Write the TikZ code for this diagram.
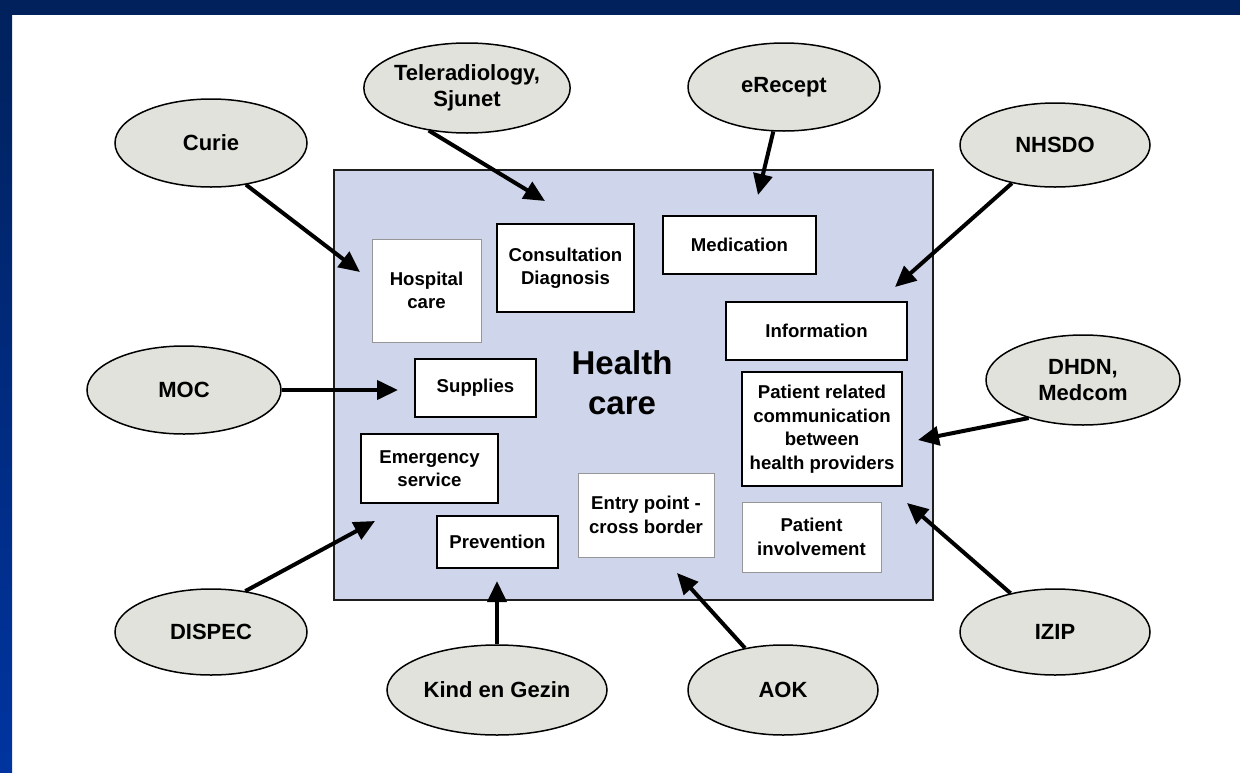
\documentclass[tikz,border=0pt]{standalone}
\usepackage{fontspec}
\setmainfont{Liberation Sans}
\usetikzlibrary{shapes.geometric,arrows.meta}
\definecolor{navy}{RGB}{0,33,92}
\definecolor{brightblue}{RGB}{0,52,160}
\definecolor{panel}{RGB}{207,213,234}
\definecolor{oval}{RGB}{226,226,220}
\definecolor{softedge}{RGB}{150,150,150}
\definecolor{paneledge}{RGB}{30,30,30}

\begin{document}
\begin{tikzpicture}[x=1pt,y=-1pt,
  bubble/.style={ellipse, draw=black, line width=1.5pt, fill=oval, inner sep=0pt,
    align=center, font=\fontsize{22}{26}\selectfont\bfseries},
  item/.style={rectangle, draw=black, line width=2pt, fill=white, inner sep=0pt,
    align=center, font=\fontsize{18.6}{23.5}\selectfont\bfseries},
  softitem/.style={item, draw=softedge, line width=1pt},
  feed/.style={line width=4pt, -{Triangle[length=21pt,width=19pt]}}
]
% page background and slide frame
\useasboundingbox (0,0) rectangle (1240,772);
\fill[white] (0,0) rectangle (1240,772);
\shade[top color=navy, bottom color=brightblue] (0,0) rectangle (12,772);
\fill[navy] (0,0) rectangle (1240,15);

% central health care panel
\node[rectangle, draw=paneledge, line width=1.5pt, fill=panel,
      minimum width=599pt, minimum height=430pt] (panel) at (633.5,385) {};
\node[align=center, font=\fontsize{33}{40}\selectfont\bfseries] (hc) at (622,383) {Health\\care};

% services inside the panel
\node[softitem, minimum width=109pt, minimum height=103pt] (hosp) at (426.5,290.5) {Hospital\\care};
\node[item, minimum width=137pt, minimum height=88pt] (cons) at (565.5,268) {Consultation\\Diagnosis};
\node[item, minimum width=153pt, minimum height=58pt] (med) at (739.5,245) {Medication};
\node[item, minimum width=181pt, minimum height=58pt] (info) at (816.5,331) {Information};
\node[item, minimum width=160pt, minimum height=114pt] (comm) at (822,429) {Patient related\\communication\\between\\health providers};
\node[softitem, minimum width=139pt, minimum height=70pt] (invol) at (811.5,537) {Patient\\involvement};
\node[softitem, minimum width=136pt, minimum height=84pt] (entry) at (646,515) {Entry point -\\cross border};
\node[item, minimum width=121pt, minimum height=58pt] (supp) at (475.5,388) {Supplies};
\node[item, minimum width=137pt, minimum height=69pt] (emerg) at (429.5,468.5) {Emergency\\service};
\node[item, minimum width=121pt, minimum height=52pt] (prev) at (497.5,542) {Prevention};

% projects around the panel
\node[bubble, minimum width=192pt, minimum height=88pt] (curie) at (211,143) {Curie};
\node[bubble, minimum width=194pt, minimum height=90pt] (tele) at (467,88) {Teleradiology,\\Sjunet};
\node[bubble, minimum width=192pt, minimum height=88pt] (erecept) at (784,87) {eRecept};
\node[bubble, minimum width=190pt, minimum height=84pt] (nhsdo) at (1055,145) {NHSDO};
\node[bubble, minimum width=194pt, minimum height=88pt] (moc) at (184,390) {MOC};
\node[bubble, minimum width=194pt, minimum height=90pt] (dhdn) at (1083,380) {DHDN,\\Medcom};
\node[bubble, minimum width=192pt, minimum height=86pt] (dispec) at (211,632) {DISPEC};
\node[bubble, minimum width=220pt, minimum height=90pt] (kind) at (497,690) {Kind en Gezin};
\node[bubble, minimum width=190pt, minimum height=90pt] (aok) at (783,690) {AOK};
\node[bubble, minimum width=190pt, minimum height=86pt] (izip) at (1055,632) {IZIP};

% arrow tips inside the panel
\coordinate (tCurie) at (360,272);
\coordinate (tTele) at (545,201);
\coordinate (tErecept) at (758,195);
\coordinate (tNhsdo) at (895,287);
\coordinate (tMoc) at (398,390);
\coordinate (tDhdn) at (918,440);
\coordinate (tIzip) at (907,503);
\coordinate (tAok) at (677,573);
\coordinate (tKind) at (497,581);
\coordinate (tDispec) at (375,521);

\draw[feed] (curie.-50) -- (tCurie);
\draw[feed] (tele.-132) -- (tTele);
\draw[feed] (erecept) -- (tErecept);
\draw[feed] (nhsdo) -- (tNhsdo);
\draw[feed] (moc) -- (tMoc);
\draw[feed] (dhdn.-145) -- (tDhdn);
\draw[feed] (izip) -- (tIzip);
\draw[feed] (aok) -- (tAok);
\draw[feed] (kind) -- (tKind);
\draw[feed] (dispec.50) -- (tDispec);
\end{tikzpicture}
\end{document}
